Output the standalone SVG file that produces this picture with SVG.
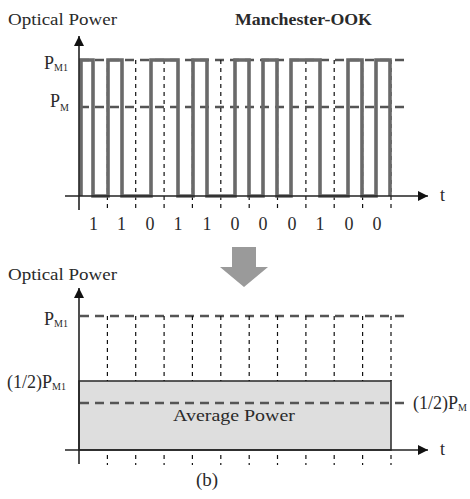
<svg xmlns="http://www.w3.org/2000/svg" width="470" height="499" viewBox="0 0 470 499">
<defs>
<style>
.lbl{font-family:"Liberation Serif","DejaVu Serif",serif;fill:#2a2a2a;}
.axis{stroke:#222;stroke-width:1.6;fill:none;}
.vd{stroke:#111;stroke-width:1.2;stroke-dasharray:4 4;fill:none;}
.hd{stroke:#555;stroke-width:2.6;stroke-dasharray:9 6;fill:none;}
.wave{stroke:#6a6a6a;stroke-width:3.6;fill:none;stroke-linejoin:miter;}
</style>
<marker id="ah" viewBox="0 0 10 10" refX="10" refY="5" markerWidth="10" markerHeight="10" markerUnits="userSpaceOnUse" orient="auto">
<path d="M0,0 L10,5 L0,10 Z" fill="#111"/>
</marker>
</defs>
<rect width="470" height="499" fill="#fff"/>

<g id="top-plot">
<text class="lbl" x="8" y="25" font-size="17" textLength="109" lengthAdjust="spacingAndGlyphs">Optical Power</text>
<text class="lbl" x="235" y="25" font-size="17" font-weight="bold" fill="#111" textLength="137" lengthAdjust="spacingAndGlyphs">Manchester-OOK</text>
<text class="lbl" x="44" y="69" font-size="18">P<tspan font-size="10" dy="2">M1</tspan></text>
<text class="lbl" x="50" y="107" font-size="18">P<tspan font-size="10" dy="4">M</tspan></text>
<g id="top-grid">
<line class="hd" x1="80" y1="60" x2="406" y2="60"/>
<line class="hd" x1="80" y1="107" x2="406" y2="107"/>
<path class="vd" d="M107.4,60V210M135.7,60V210M164.1,60V210M192.4,60V210M220.8,60V210M249.2,60V210M277.5,60V210M305.9,60V210M334.2,60V210M362.6,60V210M391,60V210"/>
</g>
<path id="waveform" class="wave" d="M81,196V60H93V196H108V60H122V196H151V60H178V196H193V60H207V196H235V60H249V196H263V60H277V196H291V60H320V196H348V60H362V196H376V60H390V196"/>
<g id="top-axes">
<line class="axis" x1="79" y1="210" x2="79" y2="36" marker-end="url(#ah)"/>
<line class="axis" x1="65" y1="196" x2="428" y2="196" marker-end="url(#ah)"/>
</g>
<text class="lbl" x="440" y="201" font-size="18">t</text>
<g id="bits" class="lbl" font-size="18" text-anchor="middle">
<text x="93.5" y="230">1</text>
<text x="121.5" y="230">1</text>
<text x="150" y="230">0</text>
<text x="178" y="230">1</text>
<text x="207" y="230">1</text>
<text x="235" y="230">0</text>
<text x="263" y="230">0</text>
<text x="292" y="230">0</text>
<text x="320" y="230">1</text>
<text x="349" y="230">0</text>
<text x="377" y="230">0</text>
</g>
</g>

<g id="transform-arrow">
<polygon points="232,247 256,247 256,267 268,267 244,287 220,267 232,267" fill="#9a9a9a"/>
</g>

<g id="bottom-plot">
<text class="lbl" x="8" y="280" font-size="17" textLength="109" lengthAdjust="spacingAndGlyphs">Optical Power</text>
<rect id="avg-box" x="79" y="381" width="312" height="69" fill="#dedede" stroke="#333" stroke-width="1.6"/>
<line class="hd" x1="80" y1="316" x2="406" y2="316"/>
<line class="hd" x1="80" y1="403" x2="406" y2="403"/>
<path class="vd" d="M107.4,316V381M135.7,316V381M164.1,316V381M192.4,316V381M220.8,316V381M249.2,316V381M277.5,316V381M305.9,316V381M334.2,316V381M362.6,316V381M391,316V381"/>
<path class="vd" d="M107.4,455V465M135.7,455V465M164.1,455V465M192.4,455V465M220.8,455V465M249.2,455V465M277.5,455V465M305.9,455V465M334.2,455V465M362.6,455V465M391,455V465"/>
<g id="bottom-axes">
<line class="axis" x1="79" y1="464" x2="79" y2="288" marker-end="url(#ah)"/>
<line class="axis" x1="65" y1="450" x2="428" y2="450" marker-end="url(#ah)"/>
</g>
<text class="lbl" x="44" y="325" font-size="18">P<tspan font-size="10" dy="2">M1</tspan></text>
<text class="lbl" x="7" y="388" font-size="18">(1/2)P<tspan font-size="10" dy="2">M1</tspan></text>
<text class="lbl" x="413" y="409" font-size="18">(1/2)P<tspan font-size="10" dy="2">M</tspan></text>
<text class="lbl" x="173" y="421" font-size="17" textLength="122" lengthAdjust="spacingAndGlyphs">Average Power</text>
<text class="lbl" x="207" y="486" font-size="19" text-anchor="middle">(b)</text>
<text class="lbl" x="440" y="455" font-size="18">t</text>
</g>
</svg>
